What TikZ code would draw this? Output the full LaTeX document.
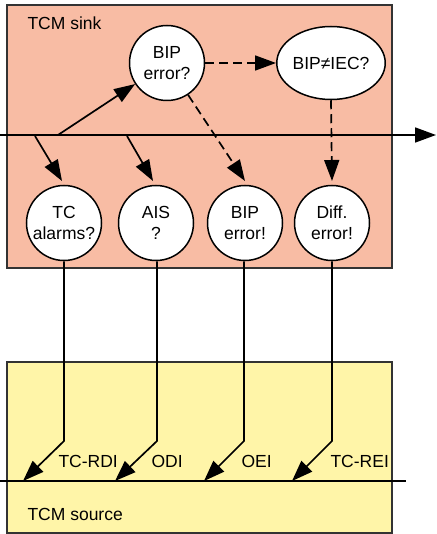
\documentclass[tikz,border=0pt]{standalone}
\usepackage{fontspec}
\setmainfont{Liberation Sans}
\usetikzlibrary{arrows.meta,shapes.geometric}
\definecolor{sinkfill}{HTML}{F8BCA4}
\definecolor{srcfill}{HTML}{FFF5A8}
\definecolor{edgegray}{HTML}{333333}
\begin{document}
\begin{tikzpicture}[x=1pt,y=-1pt,
  txt/.style={font=\fontsize{17.5}{21}\selectfont},
  state/.style={circle,draw=black,line width=1.5pt,fill=white,minimum size=75pt,inner sep=0pt,align=center,txt},
  oval/.style={ellipse,draw=black,line width=1.5pt,fill=white,minimum width=100pt,minimum height=73pt,inner sep=0pt,align=center,txt},
  box/.style={draw=edgegray,line width=1.8pt},
  arr/.style={line width=1.7pt,-{Triangle[length=21pt,width=15pt]}},
  darr/.style={arr,dash pattern=on 9pt off 5pt},
  wire/.style={line width=1.7pt}]
\useasboundingbox (0,0) rectangle (436,534);
% boxes
\fill[sinkfill] (7,5) rectangle (392,268);
\draw[box] (7,5) rectangle (392,268);
\fill[srcfill] (7,362) rectangle (392,533);
\draw[box] (7,362) rectangle (392,533);
\node[txt,anchor=base west] (sink) at (24,30) {TCM sink};
\node[txt,anchor=base west] (source) at (24,520) {TCM source};
% main signal line
\coordinate (mainL) at (0,135);
\coordinate (mainR) at (436,135);
\draw[arr] (mainL) -- (mainR);
\coordinate (botL) at (0,481);
\coordinate (botR) at (406,481);
\draw[wire] (botL) -- (botR);
% nodes
\node[state] (bip1) at (167,63) {BIP\\error?};
\node[oval] (neq) at (331,63) {BIP≠IEC?};
\node[state] (tc) at (64,223) {TC\\alarms?};
\node[state] (ais) at (156,223) {AIS\\?};
\node[state] (bip2) at (245,223) {BIP\\error!};
\node[state] (diff) at (332,223) {Diff.\\error!};
% branch points and tips
\coordinate (j1) at (58,135);
\coordinate (j2) at (35,136);
\coordinate (j3) at (127,136);
\coordinate (t1) at (62,181);
\coordinate (t2) at (153,181);
\coordinate (t3) at (245,181);
\coordinate (t4) at (332,181);
\draw[arr] (j1) -- (bip1);
\draw[arr] (j2) -- (t1);
\draw[arr] (j3) -- (t2);
\draw[darr] (bip1) -- (t3);
\draw[darr] (bip1) -- (neq);
\draw[darr] (neq.south) -- (t4);
% wires to source
\coordinate (k1) at (64,441);
\coordinate (k2) at (157,441);
\coordinate (k3) at (244,441);
\coordinate (k4) at (332,441);
\coordinate (e1) at (23,481);
\coordinate (e2) at (115,481);
\coordinate (e3) at (204,481);
\coordinate (e4) at (292,481);
\draw[arr] (tc.south) -- (k1) -- (e1);
\draw[arr] (ais.south -| k2) -- (k2) -- (e2);
\draw[arr] (bip2.south -| k3) -- (k3) -- (e3);
\draw[arr] (diff.south) -- (k4) -- (e4);
% labels
\node[txt,anchor=base west] (l1) at (55,467) {TC-RDI};
\node[txt,anchor=base west] (l2) at (148,467) {ODI};
\node[txt,anchor=base west] (l3) at (238,467) {OEI};
\node[txt,anchor=base west] (l4) at (327,467) {TC-REI};
\end{tikzpicture}
\end{document}
